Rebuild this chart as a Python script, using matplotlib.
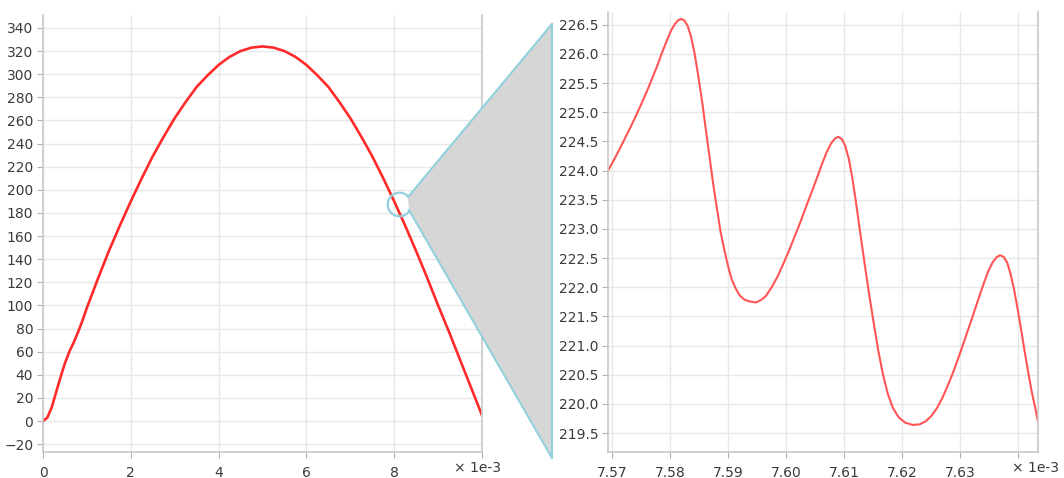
import matplotlib

matplotlib.use("Agg")
import matplotlib.pyplot as plt
from matplotlib.lines import Line2D
from matplotlib.patches import Polygon
from matplotlib.ticker import FormatStrFormatter

# full signal, time in units of 1e-3
full_t = [0.0, 0.1, 0.2, 0.3, 0.4, 0.5, 0.6, 0.7, 0.8, 0.9, 1.0, 1.25, 1.5, 1.75,
          2.0, 2.25, 2.5, 2.75, 3.0, 3.25, 3.5, 3.75, 4.0, 4.25, 4.5, 4.75, 5.0,
          5.25, 5.5, 5.75, 6.0, 6.25, 6.5, 6.75, 7.0, 7.25, 7.5, 7.75, 8.0, 8.25,
          8.5, 8.75, 9.0, 9.25, 9.5, 9.75, 10.0]
full_y = [0, 3, 12, 25, 38, 50, 60, 68, 77, 87, 98, 123, 147, 169,
          190, 210, 229, 246, 262, 276, 289, 299, 308, 315, 320, 323, 324,
          323, 320, 315, 308, 299, 289, 276, 262, 246, 229, 210, 190, 169,
          147, 124, 100, 77, 53, 29, 5]

# zoomed window
zoom_t = [7.5693, 7.5703, 7.5713, 7.5723, 7.5733, 7.5743, 7.5753, 7.5763, 7.5771,
          7.5778, 7.5786, 7.5794, 7.5801, 7.5808, 7.5814, 7.5819, 7.5824, 7.5830,
          7.5836, 7.5842, 7.5848, 7.5855, 7.5863, 7.5875, 7.5887, 7.5894, 7.5900,
          7.5906, 7.5913, 7.5920, 7.5928, 7.5936, 7.5948, 7.5958,
          7.5965, 7.5975, 7.5985, 7.5995, 7.6005, 7.6015, 7.6025, 7.6035, 7.6045,
          7.6054, 7.6062, 7.6070, 7.6077, 7.6084, 7.6090, 7.6096, 7.6102, 7.6108,
          7.6114, 7.6120, 7.6127, 7.6135, 7.6143, 7.6151, 7.6159, 7.6167, 7.6175,
          7.6184, 7.6194, 7.6205, 7.6218, 7.6230, 7.6240, 7.6250, 7.6260, 7.6270,
          7.6280, 7.6290, 7.6300, 7.6310, 7.6320, 7.6330, 7.6340, 7.6348, 7.6356,
          7.6363, 7.6369, 7.6375, 7.6381, 7.6387, 7.6393, 7.6399, 7.6405, 7.6411,
          7.6417, 7.6423, 7.6429, 7.6434]
zoom_y = [224.00, 224.18, 224.37, 224.57, 224.77, 224.98, 225.20, 225.43, 225.63,
          225.80, 226.02, 226.22, 226.39, 226.51, 226.58, 226.60, 226.58, 226.49,
          226.30, 226.02, 225.66, 225.20, 224.60, 223.72, 222.95, 222.62, 222.36,
          222.14, 221.98, 221.86, 221.79, 221.76, 221.74, 221.79,
          221.85, 222.00, 222.18, 222.40, 222.63, 222.88, 223.13, 223.40, 223.66,
          223.90, 224.12, 224.32, 224.46, 224.55, 224.58, 224.54, 224.42, 224.20,
          223.88, 223.48, 222.98, 222.42, 221.88, 221.38, 220.90, 220.50, 220.18,
          219.93, 219.77, 219.68, 219.64, 219.65, 219.70, 219.79, 219.93, 220.12,
          220.35, 220.60, 220.88, 221.17, 221.46, 221.76, 222.05, 222.27, 222.43,
          222.52, 222.55, 222.52, 222.42, 222.22, 221.95, 221.62, 221.27, 220.90,
          220.55, 220.22, 219.94, 219.70]

full_xticks = [0, 2, 4, 6, 8, 10]
full_xlabels = ["0", "2", "4", "6", "8", ""]
full_yticks = list(range(-20, 341, 20))
zoom_xticks = [7.57, 7.58, 7.59, 7.60, 7.61, 7.62, 7.63, 7.64]
zoom_xlabels = ["7.57", "7.58", "7.59", "7.60", "7.61", "7.62", "7.63", ""]
zoom_yticks = [219.5 + 0.5 * i for i in range(15)]

W, H = 1064, 478
GRID = "#e8e8e8"
SPINE = "#c8c8c8"
TEXT = "#3a3a3a"
BLUE = "#93d0dd"


def style(ax):
    ax.grid(True, color=GRID, linewidth=1.0)
    ax.set_axisbelow(True)
    ax.spines["top"].set_visible(False)
    for side in ("left", "bottom", "right"):
        ax.spines[side].set_color(SPINE)
        ax.spines[side].set_linewidth(1.2)
    ax.tick_params(colors="#b0b0b0", labelcolor=TEXT, labelsize=10, length=4, pad=3)
    ax.tick_params(axis="x", pad=6)


fig = plt.figure(figsize=(W / 100, H / 100), dpi=100)

ax1 = fig.add_axes([43 / W, 26 / H, 439 / W, 437 / H])
ax1.plot(full_t, full_y, color="#ff2a2a", linewidth=1.9)
ax1.set_xlim(0, 10)
ax1.set_ylim(-26.8, 351.2)
ax1.set_xticks(full_xticks, full_xlabels)
ax1.set_yticks(full_yticks)
style(ax1)

ax2 = fig.add_axes([608 / W, 26 / H, 430 / W, 440 / H])
ax2.plot(zoom_t, zoom_y, color="#ff5555", linewidth=1.5)
ax2.set_xlim(7.5693, 7.6434)
ax2.set_ylim(219.176, 226.72)
ax2.set_xticks(zoom_xticks, zoom_xlabels)
ax2.set_yticks(zoom_yticks)
ax2.yaxis.set_major_formatter(FormatStrFormatter("%.1f"))
style(ax2)

fig.text(477 / W, 1 - 468 / H, "× 1e-3", ha="center", va="center", fontsize=10, color=TEXT)
fig.text(1035 / W, 1 - 468 / H, "× 1e-3", ha="center", va="center", fontsize=10, color=TEXT)

# magnifier circle on the full signal
ax1.plot([8.1], [188], "o", ms=17, mfc="none", mec=BLUE, mew=1.6, clip_on=False, zorder=5)


def fpt(x, y):
    return (x / W, 1 - y / H)


cone = [fpt(408, 197), fpt(552, 24), fpt(552, 458), fpt(409, 210)]
fig.add_artist(Polygon(cone, closed=True, transform=fig.transFigure,
                       facecolor="#d6d6d6", edgecolor="none", zorder=1))
for (xa, ya), (xb, yb) in [((408, 197), (552, 24)), ((552, 24), (552, 458)), ((409, 210), (552, 458))]:
    a, b = fpt(xa, ya), fpt(xb, yb)
    fig.add_artist(Line2D([a[0], b[0]], [a[1], b[1]], transform=fig.transFigure,
                          color=BLUE, linewidth=1.5, zorder=2))

fig.savefig("out.png", dpi=100)
